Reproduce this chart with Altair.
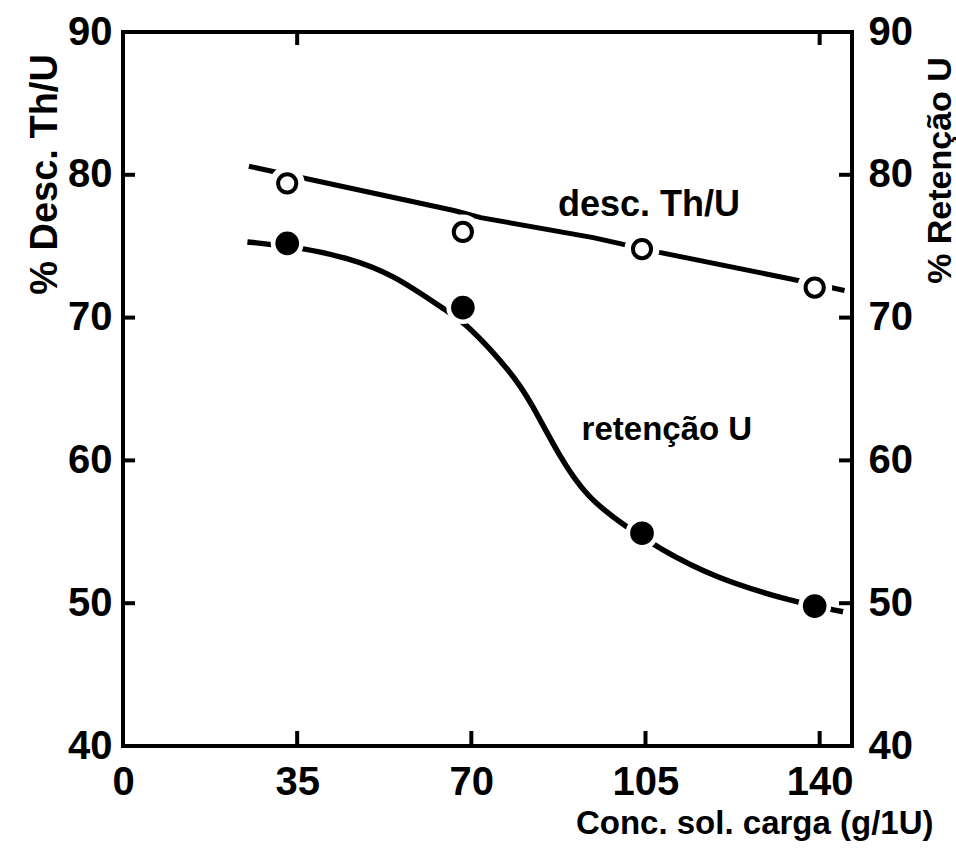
import altair as alt
import pandas as pd

# ---- data ----
pt_x = [33.0, 68.3, 104.3, 139.0]
desc_y = [79.4, 76.0, 74.8, 72.1]          # open circles, % desc. Th/U
ret_y = [75.2, 70.7, 54.9, 49.8]           # filled circles, % retenção U

desc_line_x = [25.3, 66.5, 71.9, 94.5, 107.3, 135.7, 145.0]
desc_line_y = [80.6, 77.5, 77.0, 75.6, 74.6, 72.6, 71.9]

ret_line_x = [25.0, 36.0, 45.0, 54.0, 65.3, 69.3, 78.2, 81.8, 87.8, 93.2, 101.3, 107.4, 118.6, 134.6, 144.7]
ret_line_y = [75.3, 74.9, 74.2, 73.1, 70.4, 69.5, 66.1, 64.2, 60.2, 57.4, 55.3, 53.9, 51.8, 50.1, 49.4]

x_tick_labels = [0, 35, 70, 105, 140]
y_tick_labels = [40, 50, 60, 70, 80, 90]
side_ticks = [50, 60, 70, 80]
bottom_ticks = [35, 70, 105, 140]
top_ticks = [35, 140]

label_text = ["desc. Th/U", "retenção U"]
label_x = [105.7, 109.3]
label_y = [77.9, 62.1]

x_title = "Conc. sol. carga (g/1U)"
y_left_title = "% Desc. Th/U"
y_right_title = "% Retenção U"

# ---- layout ----
W, H = 729, 714
FONT = "Liberation Sans"

pts = pd.DataFrame({"x": pt_x, "desc": desc_y, "ret": ret_y})
desc_line = pd.DataFrame({"x": desc_line_x, "y": desc_line_y})
ret_line = pd.DataFrame({"x": ret_line_x, "y": ret_line_y})
side_df = pd.DataFrame({"v": side_ticks})
bottom_df = pd.DataFrame({"v": bottom_ticks})
top_df = pd.DataFrame({"v": top_ticks})
lab1 = pd.DataFrame({"x": [label_x[0]], "y": [label_y[0]], "t": [label_text[0]]})
lab2 = pd.DataFrame({"x": [label_x[1]], "y": [label_y[1]], "t": [label_text[1]]})

xscale = alt.Scale(domain=[0, 146.5], nice=False, zero=False)
yscale = alt.Scale(domain=[40, 90], nice=False, zero=False)

x_axis = alt.Axis(
    values=x_tick_labels, ticks=False, tickSize=0, domain=False, grid=False,
    labelFont=FONT, labelFontWeight="bold", labelFontSize=40, labelColor="black",
    labelPadding=16, labelFlush=False, labelOverlap=False,
    title=x_title, titleFont=FONT, titleFontWeight="bold", titleFontSize=33,
    titleColor="black", titleAlign="right", titleBaseline="middle",
    titleX=810, titleY=77,
)
y_left_axis = alt.Axis(
    values=y_tick_labels, ticks=False, tickSize=0, domain=False, grid=False,
    labelFont=FONT, labelFontWeight="bold", labelFontSize=40, labelColor="black",
    labelPadding=11, labelFlush=False, labelOverlap=False,
    title=y_left_title, titleFont=FONT, titleFontWeight="bold", titleFontSize=38,
    titleColor="black", titleAngle=270, titleAlign="center", titleBaseline="middle",
    titleX=-78, titleY=142,
)
y_right_axis = alt.Axis(
    orient="right",
    values=y_tick_labels, ticks=False, tickSize=0, domain=False, grid=False,
    labelFont=FONT, labelFontWeight="bold", labelFontSize=40, labelColor="black",
    labelPadding=16, labelFlush=False, labelOverlap=False,
    title=y_right_title, titleFont=FONT, titleFontWeight="bold", titleFontSize=34,
    titleColor="black", titleAngle=270, titleAlign="center", titleBaseline="middle",
    titleX=88, titleY=138,
)

X = lambda f="x": alt.X(f"{f}:Q", scale=xscale, axis=x_axis)
Yn = lambda f: alt.Y(f"{f}:Q", scale=yscale, axis=None)

desc_l = alt.Chart(desc_line).mark_line(color="black", strokeWidth=5).encode(
    x=X(), y=alt.Y("y:Q", scale=yscale, axis=y_left_axis))
ret_l = alt.Chart(ret_line).mark_line(color="black", strokeWidth=5.5, interpolate="basis").encode(
    x=X(), y=Yn("y"))

halo_desc = alt.Chart(pts).mark_point(shape="circle", filled=True, color="white", opacity=1, size=1225).encode(
    x=X(), y=Yn("desc"))
halo_ret = alt.Chart(pts).mark_point(shape="circle", filled=True, color="white", opacity=1, size=1089).encode(
    x=X(), y=Yn("ret"))

open_pts = alt.Chart(pts).mark_point(shape="circle", filled=False, color="black", opacity=1,
                                     size=330, strokeWidth=4).encode(x=X(), y=Yn("desc"))
fill_pts = alt.Chart(pts).mark_point(shape="circle", filled=True, color="black", opacity=1,
                                     size=560).encode(x=X(), y=Yn("ret"))

t1 = alt.Chart(lab1).mark_text(font=FONT, fontWeight="bold", fontSize=36, color="black",
                               align="center", baseline="middle").encode(x=X(), y=Yn("y"), text="t:N")
t2 = alt.Chart(lab2).mark_text(font=FONT, fontWeight="bold", fontSize=33, color="black",
                               align="center", baseline="middle").encode(x=X(), y=Yn("y"), text="t:N")

left_ticks = alt.Chart(side_df).mark_rule(color="black", strokeWidth=4).encode(
    y=Yn("v"), x=alt.value(0), x2=alt.value(12))
right_ticks = alt.Chart(side_df).mark_rule(color="black", strokeWidth=4).encode(
    y=alt.Y("v:Q", scale=yscale, axis=y_right_axis), x=alt.value(W - 13), x2=alt.value(W))
bot_ticks = alt.Chart(bottom_df).mark_rule(color="black", strokeWidth=4).encode(
    x=X("v"), y=alt.value(H), y2=alt.value(H - 15))
tp_ticks = alt.Chart(top_df).mark_rule(color="black", strokeWidth=4).encode(
    x=X("v"), y=alt.value(0), y2=alt.value(13))

chart = alt.layer(
    desc_l, ret_l, halo_desc, halo_ret, open_pts, fill_pts, t1, t2,
    left_ticks, right_ticks, bot_ticks, tp_ticks,
).resolve_scale(y="independent").properties(
    width=W, height=H,
    autosize=alt.AutoSizeParams(type="none"),
    padding={"left": 123, "top": 32, "right": 104, "bottom": 113},
    background="white",
).configure_view(stroke="black", strokeWidth=4)

chart.save("out.html", embed_options={"renderer": "svg", "actions": False})
